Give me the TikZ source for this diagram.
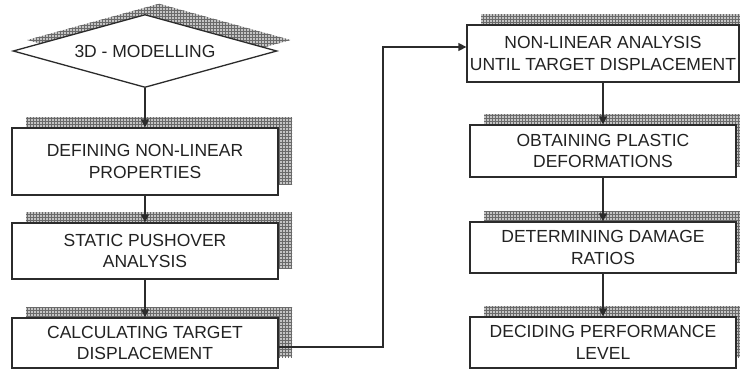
\documentclass[tikz,border=0pt]{standalone}
\usepackage{fontspec}
\setmainfont{Liberation Sans}
\usetikzlibrary{shapes.geometric, arrows.meta, positioning, shadows, patterns}
\definecolor{flowline}{HTML}{2B2B2B}
\definecolor{flowtext}{HTML}{222222}
\definecolor{hatchgray}{HTML}{6A6A6A}
\definecolor{hatchfill}{HTML}{C4C4C4}

\begin{document}
\begin{tikzpicture}[x=1pt, y=-1pt,
    hatch/.style={general shadow={shadow xshift=14pt, shadow yshift=11pt, fill=hatchfill},
                  general shadow={shadow xshift=14pt, shadow yshift=11pt, pattern=grid, pattern color=hatchgray}},
    stepbox/.style={rectangle, draw=flowline, line width=1.3pt, fill=white, hatch,
                    minimum width=266pt, minimum height=52pt, align=center, inner sep=2pt,
                    text=flowtext, font=\fontsize{17.5}{21.5}\selectfont},
    startbox/.style={diamond, draw=flowline, line width=1.3pt, fill=white, hatch,
                     minimum width=264pt, minimum height=73pt, aspect=3.6, inner sep=0pt,
                     text=flowtext, font=\fontsize{17.5}{21.5}\selectfont},
    arrow/.style={-{Triangle[length=8pt, width=8pt]}, line width=1.4pt, color=flowline}
]
\useasboundingbox (0,0) rectangle (740,370);

\node[startbox] (model) at (145,51) {3D - MODELLING};
\node[stepbox, minimum height=67pt] (props)    at (145,161.5) {DEFINING NON-LINEAR\\PROPERTIES};
\node[stepbox, minimum height=56pt] (pushover) at (145,251)   {STATIC PUSHOVER\\ANALYSIS};
\node[stepbox, minimum height=50pt] (target)   at (145,343)   {CALCULATING TARGET\\DISPLACEMENT};

\node[stepbox, minimum width=272pt, minimum height=57pt] (nonlin) at (603,53.5) {NON-LINEAR ANALYSIS\\UNTIL TARGET DISPLACEMENT};
\node[stepbox] (plastic) at (603,151) {OBTAINING PLASTIC\\DEFORMATIONS};
\node[stepbox, minimum height=51pt] (damage) at (603,247.5) {DETERMINING DAMAGE\\RATIOS};
\node[stepbox, minimum height=51pt] (level)  at (603,342.5) {DECIDING PERFORMANCE\\LEVEL};

\coordinate (turn) at (383,347);

\draw[arrow] (model) -- (props);
\draw[arrow] (props) -- (pushover);
\draw[arrow] (pushover) -- (target);
\draw[arrow] (target.east |- turn) -- (turn) |- ([yshift=6.5pt]nonlin.west);
\draw[arrow] (nonlin) -- (plastic);
\draw[arrow] (plastic) -- (damage);
\draw[arrow] (damage) -- (level);
\end{tikzpicture}
\end{document}
